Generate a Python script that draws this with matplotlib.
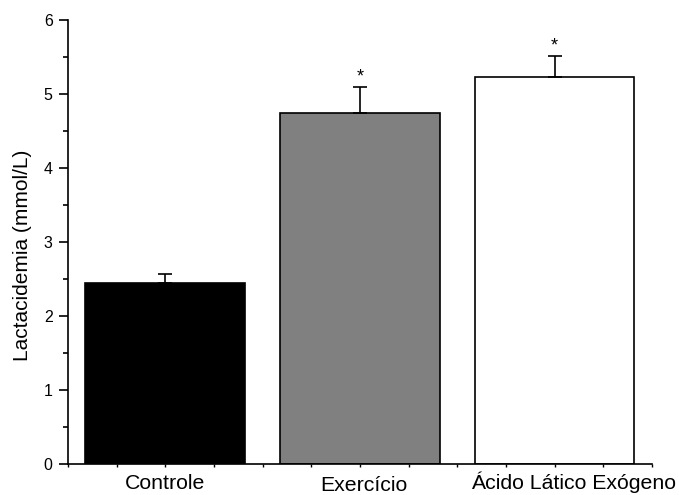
import matplotlib
matplotlib.use("Agg")
import matplotlib.pyplot as plt
from matplotlib.ticker import MultipleLocator

plt.rcParams['font.family'] = ['Liberation Sans', 'DejaVu Sans']

categories = ["Controle", "Exercício", "Ácido Lático Exógeno"]
values = [2.45, 4.75, 5.23]
errors = [0.12, 0.35, 0.29]
colors = ["#000000", "#808080", "#ffffff"]
marks = ["", "*", "*"]
# label placement (pixels): horizontal shift and baseline depth below the axis
label_dx = [0, 4, 19]
label_dy = [25, 27, 25]

fig = plt.figure(figsize=(6.79, 4.95), dpi=100)
ax = fig.add_axes([0.1001, 0.0626, 0.8601, 0.897])

x = [1, 2, 3]
ax.bar(x, values, width=0.82, color=colors, edgecolor="#000000", linewidth=1.2, zorder=2)
ax.errorbar(x, values, yerr=[[0, 0, 0], errors], fmt="none", ecolor="#000000",
            elinewidth=1.2, capsize=5, capthick=1.2, zorder=3)
for xi, v, e, m in zip(x, values, errors, marks):
    if m:
        ax.annotate(m, xy=(xi, v + e), xytext=(0, 1), textcoords='offset points',
                    ha="center", va="bottom", fontsize=13)

ax.set_xlim(0.5, 3.5)
ax.set_ylim(0, 6)
ax.spines['top'].set_visible(False)
ax.spines['right'].set_visible(False)
ax.spines['left'].set_linewidth(1.2)
ax.spines['bottom'].set_linewidth(1.2)

ax.yaxis.set_major_locator(MultipleLocator(1))
ax.yaxis.set_minor_locator(MultipleLocator(0.5))
ax.tick_params(axis='y', which='major', direction='out', length=6.5, width=1.2,
               labelsize=11.5, pad=4.5)
ax.tick_params(axis='y', which='minor', direction='out', length=3.6, width=1.2)

ax.set_xticks(x)
ax.set_xticklabels([])
ax.xaxis.set_minor_locator(MultipleLocator(0.25))
ax.tick_params(axis='x', which='both', direction='out', length=2.5, width=1.0)

for xi, lab, dx, dy in zip(x, categories, label_dx, label_dy):
    ax.annotate(lab, xy=(xi, 0), xycoords=('data', 'axes fraction'),
                xytext=(dx, -dy), textcoords='offset pixels',
                ha='center', va='baseline', fontsize=15.3)

fig.text(23 / 679, 1 - 255 / 495, "Lactacidemia (mmol/L)", rotation=90,
         ha='center', va='center', fontsize=15)

fig.savefig("out.png", dpi=100)
